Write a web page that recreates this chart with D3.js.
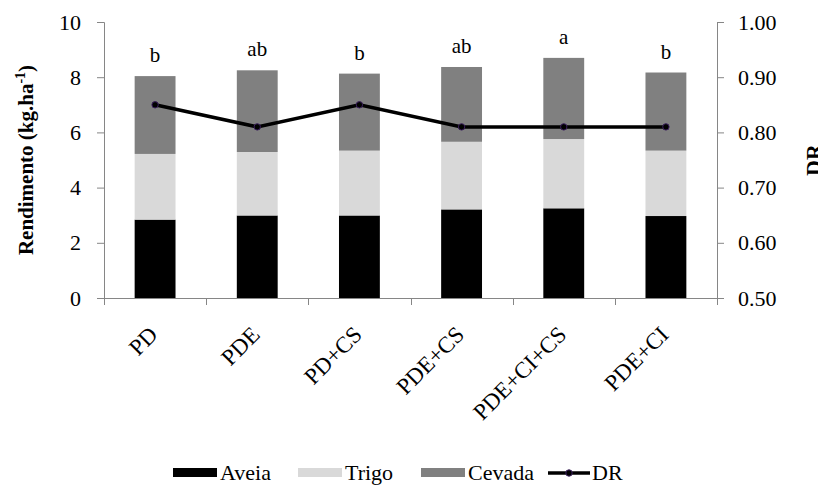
<!DOCTYPE html>
<meta charset="utf-8">
<svg width="826" height="486"></svg>
<script src="https://d3js.org/d3.v7.min.js"></script>
<script>

// data
var categories = ["PD", "PDE", "PD+CS", "PDE+CS", "PDE+CI+CS", "PDE+CI"];
var aveia  = [2.84, 2.99, 2.99, 3.21, 3.25, 2.97];
var trigo  = [2.38, 2.30, 2.35, 2.45, 2.51, 2.37];
var cevada = [2.82, 2.96, 2.79, 2.71, 2.94, 2.83];
var dr     = [0.85, 0.81, 0.85, 0.81, 0.81, 0.81];
var letters = ["b", "ab", "b", "ab", "a", "b"];
var leftTicks = [0, 2, 4, 6, 8, 10];
var rightTicks = [0.5, 0.6, 0.7, 0.8, 0.9, 1.0];

var seriesNames = ["Aveia", "Trigo", "Cevada"];
var seriesColors = ["#000000", "#d9d9d9", "#808080"];

var FONT = "'Liberation Serif'";
var AXIS = "#868686";

// the page keeps its default 8px margin, so shift the drawing back by 8px
var svg = d3.select("svg").append("g").attr("transform", "translate(-8,-8)");
var mLeft = 104, mRight = 717, mTop = 22, mBottom = 298;

var x = d3.scaleBand()
    .domain(categories)
    .range([mLeft, mRight])
    .paddingInner(0.6)
    .paddingOuter(0.3);

var y = d3.scaleLinear().domain([0, 10]).range([mBottom, mTop]);
var yR = d3.scaleLinear().domain([0.5, 1.0]).range([mBottom, mTop]);

// stack the three crops
var rows = categories.map(function(c, i) {
  return { cat: c, Aveia: aveia[i], Trigo: trigo[i], Cevada: cevada[i] };
});
var stack = d3.stack().keys(seriesNames)(rows);

svg.append("g")
  .selectAll("g")
  .data(stack)
  .enter().append("g")
    .attr("fill", function(d, i) { return seriesColors[i]; })
  .selectAll("rect")
  .data(function(d) { return d; })
  .enter().append("rect")
    .attr("x", function(d) { return x(d.data.cat); })
    .attr("width", x.bandwidth())
    .attr("y", function(d) { return y(d[1]); })
    .attr("height", function(d) { return y(d[0]) - y(d[1]); });

// significance letters above bars
svg.append("g")
  .selectAll("text")
  .data(categories)
  .enter().append("text")
    .attr("x", function(c) { return x(c) + x.bandwidth() / 2; })
    .attr("y", function(c, i) { return y(aveia[i] + trigo[i] + cevada[i]) - 14; })
    .attr("text-anchor", "middle")
    .attr("font-family", FONT)
    .attr("font-size", 21)
    .text(function(c, i) { return letters[i]; });

// axes
var gl = svg.append("g")
    .attr("transform", "translate(" + mLeft + ",0)")
    .call(d3.axisLeft(y).tickValues(leftTicks).tickSizeOuter(0).tickSize(7).tickPadding(16));

var gr = svg.append("g")
    .attr("transform", "translate(" + mRight + ",0)")
    .call(d3.axisRight(yR).tickValues(rightTicks).tickFormat(d3.format(".2f"))
      .tickSizeOuter(0).tickSize(7).tickPadding(14));

[gl, gr].forEach(function(g) {
  g.attr("font-family", FONT).attr("font-size", 22);
  g.selectAll("path, line").attr("stroke", AXIS);
  g.selectAll("text")
      .attr("fill", "#000")
      .attr("font-family", FONT)
      .attr("font-size", 22);
});

// category axis with ticks between categories
var step = x.step();
var bounds = categories.map(function(c) { return x(c) - (step - x.bandwidth()) / 2; });
bounds.push(mRight);

var gx = svg.append("g").attr("stroke", AXIS);
gx.append("line")
    .attr("x1", mLeft).attr("x2", mRight)
    .attr("y1", mBottom + 0.5).attr("y2", mBottom + 0.5);
gx.selectAll("line.tk")
  .data(bounds)
  .enter().append("line")
    .attr("class", "tk")
    .attr("x1", function(d) { return Math.round(d) + 0.5; })
    .attr("x2", function(d) { return Math.round(d) + 0.5; })
    .attr("y1", mBottom).attr("y2", mBottom + 7);

svg.append("g")
  .selectAll("text")
  .data(categories)
  .enter().append("text")
    .attr("transform", function(c) {
      return "translate(" + (x(c) + x.bandwidth() / 2 + 4) + "," + (mBottom + 38) + ") rotate(-45)";
    })
    .attr("text-anchor", "end")
    .attr("font-family", FONT)
    .attr("font-size", 23)
    .text(function(c) { return c; });

// DR line
var line = d3.line()
    .x(function(d, i) { return x(categories[i]) + x.bandwidth() / 2; })
    .y(function(d) { return yR(d); });

svg.append("path")
    .datum(dr)
    .attr("fill", "none")
    .attr("stroke", "#000")
    .attr("stroke-width", 3.5)
    .attr("d", line);

svg.append("g")
  .selectAll("circle")
  .data(dr)
  .enter().append("circle")
    .attr("cx", function(d, i) { return x(categories[i]) + x.bandwidth() / 2; })
    .attr("cy", function(d) { return yR(d); })
    .attr("r", 3.2)
    .attr("fill", "#000")
    .attr("stroke", "#3b1f5e")
    .attr("stroke-width", 1);

// axis titles
var lt = svg.append("text")
    .attr("transform", "translate(33,160) rotate(-90)")
    .attr("text-anchor", "middle")
    .attr("font-family", FONT)
    .attr("font-size", 21)
    .attr("font-weight", "bold");
lt.append("tspan").text("Rendimento (kg.ha");
lt.append("tspan").attr("dy", -8).attr("font-size", 14).text("-1");
lt.append("tspan").attr("dy", 8).text(")");

svg.append("text")
    .attr("transform", "translate(821,160) rotate(-90)")
    .attr("text-anchor", "middle")
    .attr("font-family", FONT)
    .attr("font-size", 22)
    .attr("font-weight", "bold")
    .text("DR");

// legend
var legend = svg.append("g");
var legX = [173, 298, 421];
seriesNames.forEach(function(name, i) {
  legend.append("rect")
      .attr("x", legX[i]).attr("y", 468)
      .attr("width", 44).attr("height", 9)
      .attr("fill", seriesColors[i]);
  legend.append("text")
      .attr("x", legX[i] + 47).attr("y", 480)
      .attr("font-family", FONT)
      .attr("font-size", 22)
      .text(name);
});
legend.append("line")
    .attr("x1", 548).attr("x2", 590)
    .attr("y1", 473).attr("y2", 473)
    .attr("stroke", "#000").attr("stroke-width", 3.5);
legend.append("circle")
    .attr("cx", 569).attr("cy", 473).attr("r", 3.2)
    .attr("fill", "#000").attr("stroke", "#3b1f5e");
legend.append("text")
    .attr("x", 592).attr("y", 480)
    .attr("font-family", FONT)
    .attr("font-size", 22)
    .text("DR");

</script>
